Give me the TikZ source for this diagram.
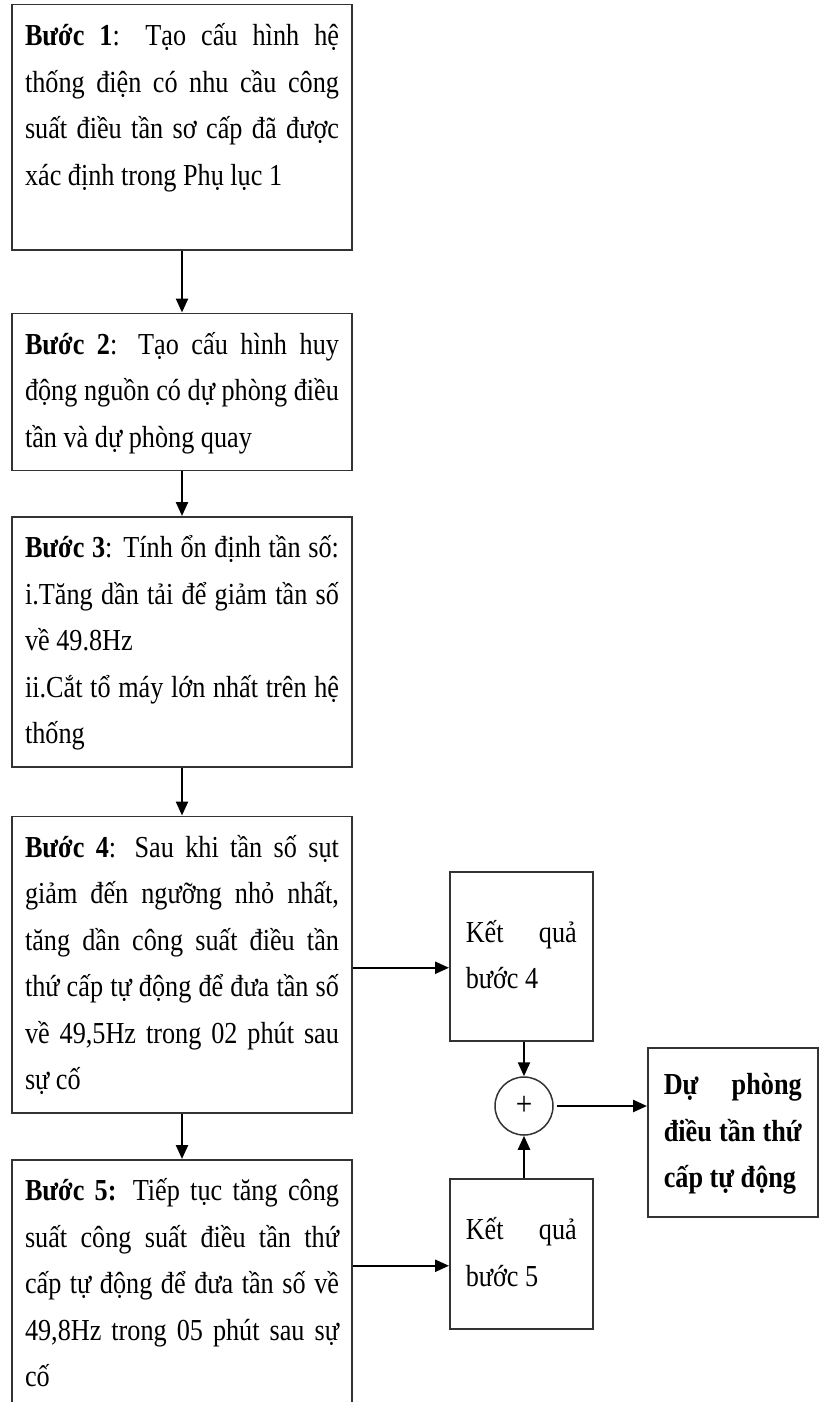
\documentclass[tikz,border=0pt]{standalone}
\usepackage{fontspec}
\setmainfont{Liberation Serif}[FakeStretch=0.86]
\usetikzlibrary{positioning,arrows.meta}
\hyphenpenalty=10000
\exhyphenpenalty=10000
\newcommand{\lstrut}{\rule[-14.25pt]{0pt}{46.5pt}}

\begin{document}
\begin{tikzpicture}[
  x=1pt, y=1pt,
  stepbox/.style={draw=black!80, line width=1.5pt, anchor=north, text width=314pt, inner xsep=13pt, inner ysep=8.75pt, align=justify, font=\fontsize{30.5}{46.5}\selectfont},
  resbox/.style={draw=black!80, line width=1.5pt, anchor=north west, text width=111pt, inner xsep=16pt, inner ysep=8.75pt, align=justify, font=\fontsize{30.5}{46.5}\selectfont},
  arr/.style={-{Triangle[length=14pt,width=12pt]}, line width=2.4pt}
]
\useasboundingbox[fill=white] (0,0) rectangle (819,-1402);

% steps
\node[stepbox] (b1) at (182,-4) {\lstrut\textbf{Bước 1}: Tạo cấu hình hệ\linebreak thống điện có nhu cầu công\linebreak suất điều tần sơ cấp đã được\linebreak xác định trong Phụ lục 1\\[-5pt]\lstrut};
\node[stepbox, below=62pt of b1] (b2) {\lstrut\textbf{Bước 2}: Tạo cấu hình huy\linebreak động nguồn có dự phòng điều\linebreak tần và dự phòng quay\lstrut};
\node[stepbox, below=45pt of b2] (b3) {\lstrut\textbf{Bước 3}: Tính ổn định tần số:\linebreak i.Tăng dần tải để giảm tần số\linebreak về 49.8Hz\\ ii.Cắt tổ máy lớn nhất trên hệ\linebreak thống\lstrut};
\node[stepbox, below=48pt of b3] (b4) {\lstrut\textbf{Bước 4}: Sau khi tần số sụt\linebreak giảm đến ngưỡng nhỏ nhất,\linebreak tăng dần công suất điều tần\linebreak thứ cấp tự động để đưa tần số\linebreak về 49,5Hz trong 02 phút sau\linebreak sự cố\lstrut};
\node[stepbox, below=45.5pt of b4] (b5) {\lstrut\textbf{Bước 5:} Tiếp tục tăng công\linebreak suất công suất điều tần thứ\linebreak cấp tự động để đưa tần số về\linebreak 49,8Hz trong 05 phút sau sự\linebreak cố\lstrut};

% results
\node[resbox, minimum height=169pt] (r4) at (449,-871) {\lstrut Kết quả\linebreak bước 4\lstrut};
\node[resbox, minimum height=150pt] (r5) at (449,-1178) {\lstrut Kết quả\linebreak bước 5\lstrut};
\node[draw=black!80, line width=1.5pt, circle, minimum size=58pt, inner sep=0pt, font=\fontsize{34}{34}\selectfont] (sum) at (524,-1106) {+};
\node[resbox, text width=138pt, minimum height=169pt, font=\bfseries\fontsize{30.5}{46.5}\selectfont] (res) at (647,-1047) {\lstrut Dự phòng\linebreak điều tần thứ\linebreak cấp tự động\lstrut};

\coordinate (in4) at ([yshift=-11.5pt]r4.west);
\coordinate (in5) at ([yshift=-12pt]r5.west);

\draw[arr] (b1) -- (b2);
\draw[arr] (b2) -- (b3);
\draw[arr] (b3) -- (b4);
\draw[arr] (b4) -- (b5);
\draw[arr] (b4.east |- in4) -- (in4);
\draw[arr] (b5.east |- in5) -- (in5);
\draw[arr] (r4.south -| sum) -- (sum);
\draw[arr] (r5.north -| sum) -- (sum);
\draw[arr, shorten <=3pt] (sum) -- (sum -| res.west);
\end{tikzpicture}
\end{document}
